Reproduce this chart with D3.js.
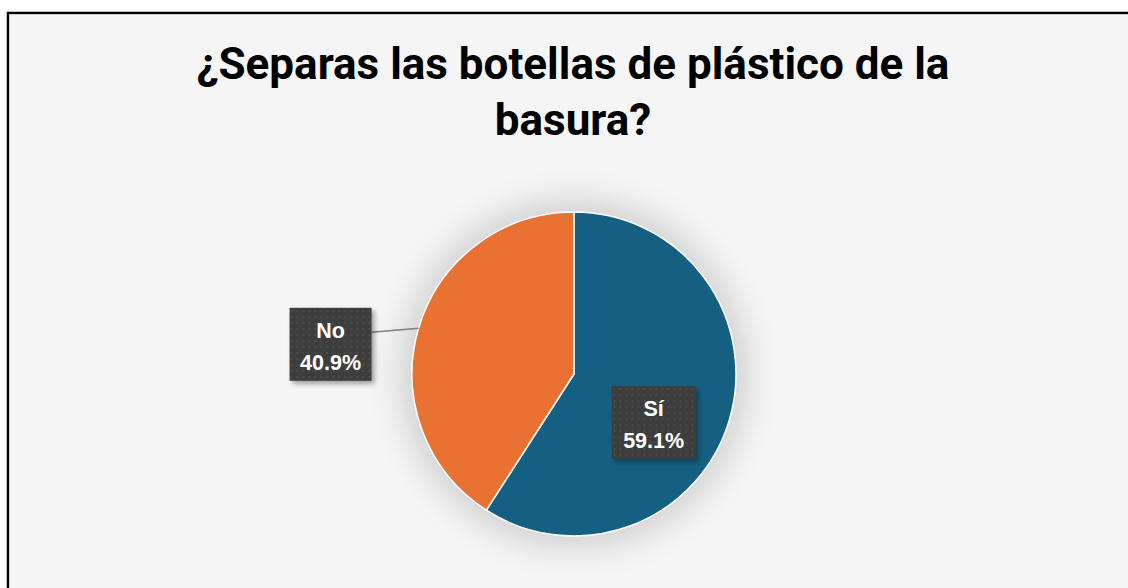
<!DOCTYPE html>
<html>
<head>
<meta charset="utf-8">
<script src="https://cdn.jsdelivr.net/npm/d3@7"></script>
<style>
	html, body { margin: 0; padding: 0; background: #ffffff; }
	svg { display: block; }
</style>
</head>
<body>
<div id="wrapper"></div>
<script>
const categories = ["Sí", "No"];
const values = [59.1, 40.9];
const labels = ["59.1%", "40.9%"];
const titleLines = ["¿Separas las botellas de plástico de la", "basura?"];
const colors = ["#156082", "#E97132"];

const width = 1128;
const height = 588;
const center = { x: 574, y: 374 };
const radius = 162;

const svg = d3
	.select("#wrapper")
	.append("svg")
	.attr("width", width)
	.attr("height", height);

const defs = svg.append("defs");

// soft halo under the pie
defs
	.append("filter")
	.attr("id", "halo")
	.attr("x", "-50%")
	.attr("y", "-50%")
	.attr("width", "200%")
	.attr("height", "200%")
	.append("feGaussianBlur")
	.attr("stdDeviation", 18);

// label box shadow
const boxShadow = defs
	.append("filter")
	.attr("id", "boxShadow")
	.attr("x", "-30%")
	.attr("y", "-30%")
	.attr("width", "160%")
	.attr("height", "160%");
boxShadow
	.append("feDropShadow")
	.attr("dx", 3)
	.attr("dy", 3)
	.attr("stdDeviation", 2.5)
	.attr("flood-color", "#000")
	.attr("flood-opacity", 0.35);

// dotted texture for label boxes
const pattern = defs
	.append("pattern")
	.attr("id", "dots")
	.attr("width", 6)
	.attr("height", 6)
	.attr("patternUnits", "userSpaceOnUse");
pattern.append("rect").attr("width", 6).attr("height", 6).attr("fill", "#3d3d3d");
pattern.append("rect").attr("x", 2).attr("y", 2).attr("width", 1.5).attr("height", 1.5).attr("fill", "#555");

// chart area background + frame
svg
	.append("rect")
	.attr("x", 8)
	.attr("y", 13)
	.attr("width", width)
	.attr("height", height)
	.attr("fill", "#f5f5f5")
	.attr("stroke", "#000")
	.attr("stroke-width", 2.5);
svg
	.append("rect")
	.attr("x", 9.5)
	.attr("y", 14.5)
	.attr("width", width)
	.attr("height", height)
	.attr("fill", "none")
	.attr("stroke", "#cfcfcf")
	.attr("stroke-width", 1);

// title
const title = svg
	.append("text")
	.attr("text-anchor", "middle")
	.attr("font-family", "Roboto, 'Open Sans', sans-serif")
	.attr("font-weight", 700)
	.attr("font-size", 44)
	.attr("fill", "#000");
titleLines.forEach((line, i) => {
	title
		.append("tspan")
		.attr("x", 573)
		.attr("y", 79 + i * 56)
		.text(line);
});

const pie = d3.pie().sort(null).value((d) => d)(values);
const arc = d3.arc().innerRadius(0).outerRadius(radius);

const g = svg
	.append("g")
	.attr("transform", `translate(${center.x}, ${center.y})`);

g.append("circle")
	.attr("r", radius + 10)
	.attr("fill", "#000")
	.attr("opacity", 0.16)
	.attr("filter", "url(#halo)");

g.selectAll(".slice")
	.data(pie)
	.enter()
	.append("path")
	.attr("class", "slice")
	.attr("d", arc)
	.attr("fill", (d, i) => colors[i])
	.attr("stroke", "#fff")
	.attr("stroke-width", 1.5)
	.attr("stroke-linejoin", "round");

function drawLabel(x, y, w, h, cat, pct) {
	const lg = g.append("g").attr("transform", `translate(${x}, ${y})`);
	lg.append("rect")
		.attr("x", -w / 2)
		.attr("y", -h / 2)
		.attr("width", w)
		.attr("height", h)
		.attr("fill", "url(#dots)")
		.attr("filter", "url(#boxShadow)");
	const t = lg
		.append("text")
		.attr("text-anchor", "middle")
		.attr("font-family", "'Liberation Sans', Arial, sans-serif")
		.attr("font-weight", 700)
		.attr("font-size", 21.5)
		.attr("fill", "#fff");
	t.append("tspan").attr("x", 0).attr("y", -6).text(cat);
	t.append("tspan").attr("x", 0).attr("y", 26).text(pct);
}

// Sí label inside its slice
const si = pie[0];
const siAngle = (si.startAngle + si.endAngle) / 2 + 0.26;
drawLabel(
	Math.sin(siAngle) * radius * 0.575,
	-Math.cos(siAngle) * radius * 0.575,
	84,
	73,
	categories[0],
	labels[0]
);

// No label outside with leader line
const no = pie[1];
const noAngle = (no.startAngle + no.endAngle) / 2;
const edge = [Math.sin(noAngle) * radius, -Math.cos(noAngle) * radius];
const lineEnd = [edge[0] - 47, edge[1] + 4];
g.append("path")
	.attr("d", d3.line()([edge, lineEnd]))
	.attr("fill", "none")
	.attr("stroke", "#7f7f7f")
	.attr("stroke-width", 1.5);
drawLabel(lineEnd[0] - 41, lineEnd[1] + 12, 82, 73, categories[1], labels[1]);
</script>
</body>
</html>
